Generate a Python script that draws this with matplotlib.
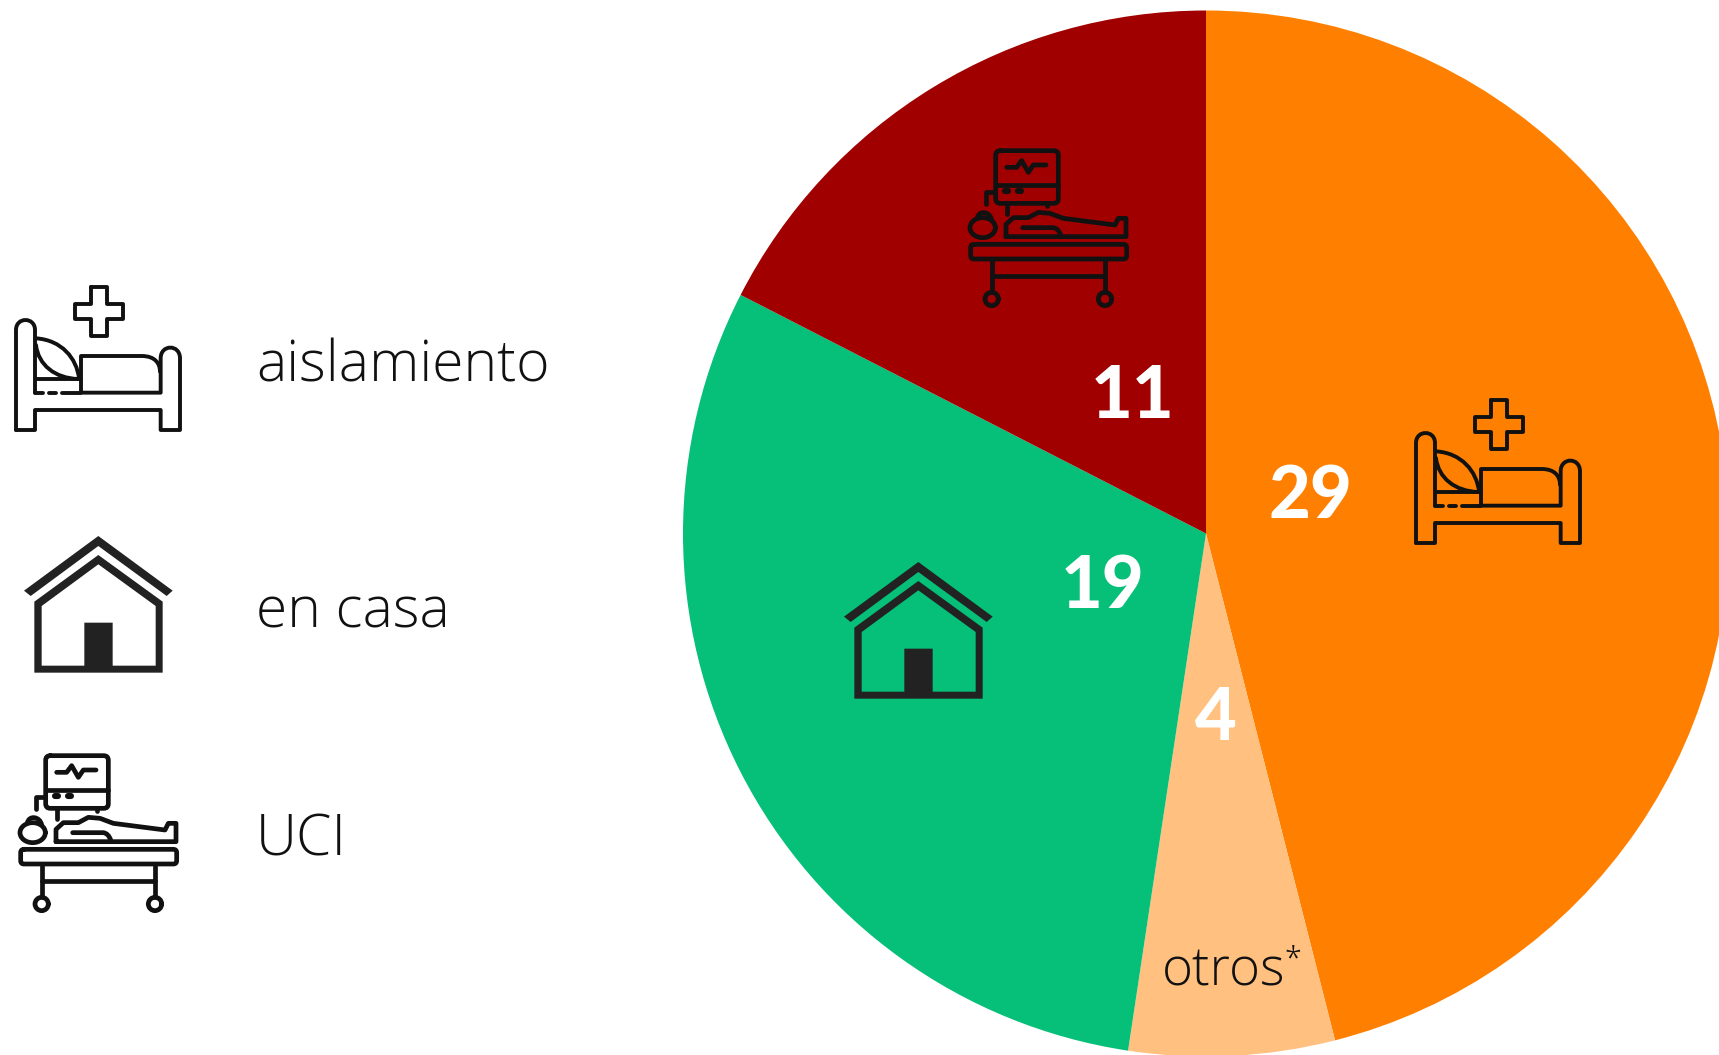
import matplotlib
matplotlib.use('Agg')
import matplotlib.pyplot as plt
from matplotlib.path import Path
from matplotlib.patches import PathPatch
from matplotlib.transforms import Affine2D

W, H = 1719, 1055

values = [29, 4, 19, 11]
colors = ['#FF8000', '#FFC080', '#06BF78', '#A00000']
value_pos = [(1310, 497), (1216, 719), (1103, 587), (1133, 398)]
legend_labels = ['aislamiento', 'en casa', 'UCI']
legend_y = [381, 627, 855]

M, L, C, Q = Path.MOVETO, Path.LINETO, Path.CURVE4, Path.CURVE3

fig = plt.figure(figsize=(W / 100, H / 100), dpi=100)
ax = fig.add_axes([0, 0, 1, 1])
ax.set_xlim(0, W)
ax.set_ylim(0, H)
ax.axis('off')


def stroke(verts, codes=None, tr=None, col='#111111', lw=2.8, face='none', z=5):
    if codes is None:
        codes = [M] + [L] * (len(verts) - 1)
    p = PathPatch(Path(verts, codes), fc=face, ec=col, lw=lw, transform=tr,
                  capstyle='round', joinstyle='round', zorder=z)
    ax.add_patch(p)


def place(ox, oy):
    # icons are sketched in zoomed crop units, 3 units = 1 px
    return Affine2D().scale(1 / 3, -1 / 3).translate(ox, H - oy) + ax.transData


def bed(ox, oy):
    tr = place(ox, oy)
    frame = [(48, 480), (48, 180), (48, 140), (105, 140), (105, 180), (105, 368)]
    stroke(frame, [M, L, C, C, C, L], tr)
    rest = [(240, 368), (482, 368), (482, 265), (482, 222), (540, 222), (540, 265), (540, 480),
            (482, 480), (482, 420), (105, 420), (105, 480), (48, 480), (48, 480)]
    stroke(rest, [M, L, L, C, C, C, L, L, L, L, L, L, L], tr)
    stroke([(105, 368), (130, 368)], None, tr)
    stroke([(148, 368), (168, 368)], None, tr)
    stroke([(186, 368), (240, 368)], None, tr)
    cross = [(273, 50), (321, 50), (321, 102), (370, 102), (370, 146), (321, 146),
             (321, 197), (273, 197), (273, 146), (224, 146), (224, 102), (273, 102),
             (273, 50)]
    stroke(cross, None, tr)
    stroke([(108, 205), (185, 210), (230, 265), (237, 325)], [M, C, C, C], tr)
    stroke([(108, 225), (115, 285), (165, 325), (235, 327)], [M, C, C, C], tr)
    stroke([(108, 328), (243, 328)], None, tr)
    stroke([(243, 368), (243, 258), (425, 258), (465, 258), (480, 280), (480, 305)],
           [M, L, L, C, C, C], tr)


def house(ox, oy):
    tr = place(ox, oy)
    col = '#222222'
    roof = [(72, 212), (295, 48), (518, 212), (500, 228), (295, 78), (92, 228), (72, 212)]
    stroke(roof, None, tr, col=col, lw=0, face=col)
    verts = [(103, 245), (295, 105), (488, 245), (488, 458), (103, 458), (103, 245),
             (125, 258), (125, 437), (253, 437), (253, 308), (338, 308), (338, 437),
             (467, 437), (467, 258), (295, 133), (125, 258)]
    codes = [M, L, L, L, L, Path.CLOSEPOLY, M, L, L, L, L, L, L, L, L, Path.CLOSEPOLY]
    stroke(verts, codes, tr, col=col, lw=0, face=col)


def rrect(x0, y0, x1, y1, r):
    verts = [(x0 + r, y0), (x1 - r, y0), (x1, y0), (x1, y0 + r), (x1, y1 - r), (x1, y1),
             (x1 - r, y1), (x0 + r, y1), (x0, y1), (x0, y1 - r), (x0, y0 + r), (x0, y0),
             (x0 + r, y0)]
    codes = [M, L, Q, Q, L, Q, Q, L, Q, Q, L, Q, Q]
    return verts, codes


def ring(cx, cy, rx, ry):
    k = 0.5523
    verts = [(cx + rx, cy), (cx + rx, cy + k * ry), (cx + k * rx, cy + ry), (cx, cy + ry),
             (cx - k * rx, cy + ry), (cx - rx, cy + k * ry), (cx - rx, cy),
             (cx - rx, cy - k * ry), (cx - k * rx, cy - ry), (cx, cy - ry),
             (cx + k * rx, cy - ry), (cx + rx, cy - k * ry), (cx + rx, cy)]
    return verts, [M] + [C] * 12


def uci(ox, oy):
    tr = place(ox, oy)
    lw = 3.4
    v, c = rrect(137, 47, 325, 205, 14)
    stroke(v, c, tr, lw=lw)
    stroke([(137, 150), (325, 150)], None, tr, lw=lw)
    stroke([(170, 97), (200, 97), (215, 77), (235, 112), (250, 90), (288, 90)], None, tr, lw=lw)
    stroke([(165, 168), (175, 168)], None, tr, lw=lw + 1)
    stroke([(203, 168), (213, 168)], None, tr, lw=lw + 1)
    stroke([(135, 172), (108, 172), (108, 208)], None, tr, lw=lw)
    stroke([(172, 205), (172, 238)], None, tr, lw=lw)
    stroke([(290, 205), (290, 212)], None, tr, lw=lw)
    v, c = ring(98, 278, 38, 30)
    stroke(v, c, tr, lw=lw)
    stroke([(82, 250), (85, 225), (120, 228), (125, 255)], [M, C, C, C], tr, lw=lw)
    body = [(168, 305), (168, 268), (190, 248), (235, 248), (265, 232), (300, 235),
            (340, 250), (495, 270), (505, 250), (528, 250), (528, 305), (168, 305)]
    stroke(body, None, tr, lw=lw)
    stroke([(218, 278), (310, 278), (325, 280), (332, 300)], [M, L, Q, Q], tr, lw=lw)
    v, c = rrect(62, 328, 530, 372, 10)
    stroke(v, c, tr, lw=lw)
    stroke([(125, 372), (125, 472)], None, tr, lw=lw)
    stroke([(465, 372), (465, 472)], None, tr, lw=lw)
    stroke([(125, 422), (465, 422)], None, tr, lw=lw)
    for cx in (125, 465):
        v, c = ring(cx, 492, 20, 20)
        stroke(v, c, tr, lw=lw)


wedges, _ = ax.pie(values, colors=colors, startangle=90, counterclock=False,
                   center=(1206, H - 533.5), radius=523, frame=True,
                   wedgeprops={'linewidth': 0})
ax.set_xlim(0, W)
ax.set_ylim(0, H)
ax.set_aspect('equal')
ax.axis('off')

for v, (x, y) in zip(values, value_pos):
    ax.text(x, H - y, str(v), color='white', fontsize=52, fontweight='black', family='Lato',
            ha='center', va='center', zorder=6)

for lab, y in zip(legend_labels, legend_y):
    ax.text(256, H - y, lab, color='#111111', fontsize=41, fontweight='light', family='Open Sans',
            ha='left', va='baseline', zorder=6)

ax.text(1162, H - 985, 'otros', color='#111111', fontsize=38, fontweight='light', family='Open Sans',
        ha='left', va='baseline', zorder=6)
ax.text(1284, H - 968, '*', color='#111111', fontsize=22, fontweight='light', family='Open Sans',
        ha='left', va='baseline', zorder=6)

bed(0, 270)
bed(1400, 383)
house(0, 520)
house(820, 546)
uci(0, 740)
uci(950, 135)

fig.savefig('out.png', dpi=100)
